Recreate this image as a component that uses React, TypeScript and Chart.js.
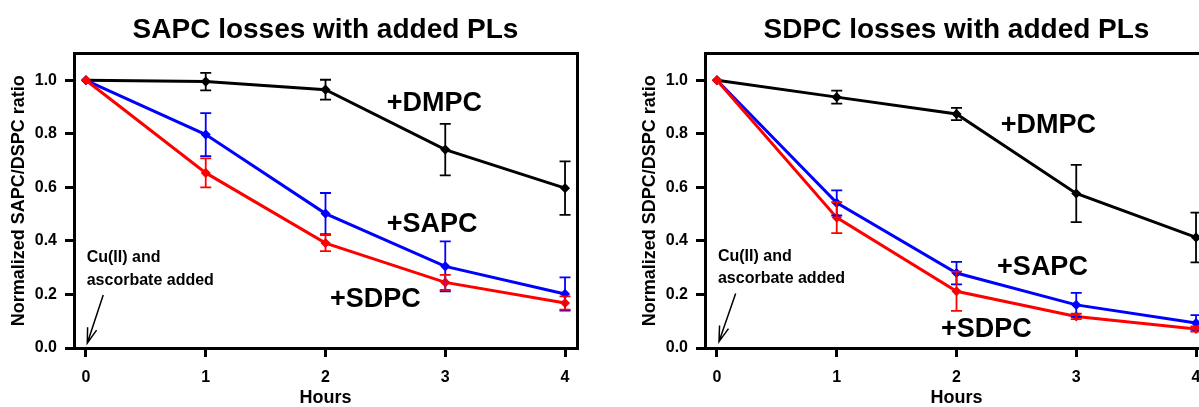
import React, { useEffect, useRef } from "react";
import { Chart, registerables } from "chart.js";

Chart.register(...registerables);

const FONT = '"Liberation Sans", Arial, Helvetica, sans-serif';

// ---- shared axes ----
const hours = [0, 1, 2, 3, 4];
const xTickValues = [0, 1, 2, 3, 4];
const yTickValues = [0, 0.2, 0.4, 0.6, 0.8, 1.0];

// ---- panel 1: SAPC losses ----
const sapcPanelDMPC = [1.0, 0.995, 0.965, 0.741, 0.597];
const sapcPanelDMPCErr = [0, 0.033, 0.037, 0.096, 0.1];
const sapcPanelSAPC = [1.0, 0.797, 0.502, 0.305, 0.202];
const sapcPanelSAPCErr = [0, 0.08, 0.077, 0.093, 0.062];
const sapcPanelSDPC = [1.0, 0.654, 0.392, 0.245, 0.168];
const sapcPanelSDPCErr = [0, 0.054, 0.03, 0.028, 0.025];

// ---- panel 2: SDPC losses ----
const sdpcPanelDMPC = [1.0, 0.937, 0.874, 0.577, 0.413];
const sdpcPanelDMPCErr = [0, 0.024, 0.023, 0.107, 0.093];
const sdpcPanelSAPC = [1.0, 0.542, 0.28, 0.161, 0.093];
const sdpcPanelSAPCErr = [0, 0.047, 0.042, 0.045, 0.03];
const sdpcPanelSDPC = [1.0, 0.487, 0.212, 0.118, 0.071];
const sdpcPanelSDPCErr = [0, 0.058, 0.073, 0.01, 0.01];

// ---- annotations (data coordinates) ----
const sapcNotes = [
  { text: "+DMPC", x: 2.512, y: 0.913, size: 27 },
  { text: "+SAPC", x: 2.512, y: 0.461, size: 27 },
  { text: "+SDPC", x: 2.037, y: 0.18, size: 27 },
  { text: "Cu(II) and", x: 0.006, y: 0.336, size: 16 },
  { text: "ascorbate added", x: 0.006, y: 0.25, size: 16 },
];
const sdpcNotes = [
  { text: "+DMPC", x: 2.37, y: 0.831, size: 27 },
  { text: "+SAPC", x: 2.339, y: 0.3, size: 27 },
  { text: "+SDPC", x: 1.87, y: 0.068, size: 27 },
  { text: "Cu(II) and", x: 0.008, y: 0.34, size: 16 },
  { text: "ascorbate added", x: 0.008, y: 0.26, size: 16 },
];
const sapcArrow = { fromX: 0.144, fromY: 0.198, toX: 0.011, toY: 0.018 };
const sdpcArrow = { fromX: 0.156, fromY: 0.204, toX: 0.017, toY: 0.024 };

const RED = "#ff0000";
const BLUE = "#0000ff";
const BLACK = "#000000";

const pts = (vals: number[]) => hours.map((h, i) => ({ x: h, y: vals[i] }));

const errorBarPlugin = {
  id: "errorBars",
  afterDatasetsDraw(chart: any, _args: any, opts: any) {
    const { ctx } = chart;
    const xs = chart.scales.x;
    const ys = chart.scales.y;
    const errs: number[][] = opts.errors || [];
    const cap = opts.cap ?? 5.5;
    for (let i = chart.data.datasets.length - 1; i >= 0; i--) {
      const ds = chart.data.datasets[i];
      const e = errs[i];
      if (!e) continue;
      ctx.save();
      ctx.strokeStyle = ds.borderColor;
      ctx.lineWidth = opts.lineWidth ?? 1.8;
      ds.data.forEach((p: any, j: number) => {
        if (!e[j]) return;
        const px = xs.getPixelForValue(p.x);
        const t = ys.getPixelForValue(p.y + e[j]);
        const b = ys.getPixelForValue(p.y - e[j]);
        ctx.beginPath();
        ctx.moveTo(px, t);
        ctx.lineTo(px, b);
        ctx.moveTo(px - cap, t);
        ctx.lineTo(px + cap, t);
        ctx.moveTo(px - cap, b);
        ctx.lineTo(px + cap, b);
        ctx.stroke();
      });
      ctx.restore();
    }
  },
};

const notesPlugin = {
  id: "notes",
  afterDraw(chart: any, _args: any, opts: any) {
    const { ctx } = chart;
    const xs = chart.scales.x;
    const ys = chart.scales.y;
    ctx.save();
    ctx.fillStyle = BLACK;
    ctx.textAlign = "left";
    ctx.textBaseline = "middle";
    (opts.items || []).forEach((n: any) => {
      ctx.font = `bold ${n.size}px ${FONT}`;
      ctx.fillText(n.text, xs.getPixelForValue(n.x), ys.getPixelForValue(n.y));
    });
    const a = opts.arrow;
    if (a) {
      const x1 = xs.getPixelForValue(a.fromX);
      const y1 = ys.getPixelForValue(a.fromY);
      const x2 = xs.getPixelForValue(a.toX);
      const y2 = ys.getPixelForValue(a.toY);
      const ang = Math.atan2(y2 - y1, x2 - x1);
      const hl = 16;
      const ha = 0.3;
      ctx.strokeStyle = BLACK;
      ctx.lineWidth = 1.5;
      ctx.beginPath();
      ctx.moveTo(x1, y1);
      ctx.lineTo(x2, y2);
      ctx.moveTo(x2 - hl * Math.cos(ang - ha), y2 - hl * Math.sin(ang - ha));
      ctx.lineTo(x2, y2);
      ctx.lineTo(x2 - hl * Math.cos(ang + ha), y2 - hl * Math.sin(ang + ha));
      ctx.stroke();
    }
    ctx.restore();
  },
};

type PanelCfg = {
  title: string;
  yTitle: string;
  dmpc: number[];
  dmpcErr: number[];
  sapc: number[];
  sapcErr: number[];
  sdpc: number[];
  sdpcErr: number[];
  notes: any[];
  arrow: any;
};

const axisGrid = {
  display: true,
  drawOnChartArea: false,
  drawTicks: true,
  tickLength: 9,
  tickWidth: 3,
  tickColor: BLACK,
  color: BLACK,
  lineWidth: 3,
};
const axisBorder = { display: true, color: BLACK, width: 3 };

function Panel({ cfg, left }: { cfg: PanelCfg; left: number }) {
  const ref = useRef<HTMLCanvasElement>(null);
  useEffect(() => {
    if (!ref.current) return;
    const mk = (label: string, color: string, vals: number[]) => ({
      label,
      data: pts(vals),
      borderColor: color,
      backgroundColor: color,
      pointBackgroundColor: color,
      pointBorderColor: color,
      borderWidth: 3,
      pointStyle: "rectRot",
      pointRadius: 4,
      pointBorderWidth: 1.5,
      showLine: true,
      tension: 0,
    });
    const chart = new Chart(ref.current, {
      type: "scatter",
      data: {
        datasets: [
          mk("+SDPC", RED, cfg.sdpc),
          mk("+SAPC", BLUE, cfg.sapc),
          mk("+DMPC", BLACK, cfg.dmpc),
        ] as any,
      },
      plugins: [errorBarPlugin, notesPlugin],
      options: {
        animation: false,
        responsive: false,
        events: [],
        layout: { padding: { left: 0, right: 23, top: 0, bottom: 0 } },
        plugins: {
          legend: { display: false },
          tooltip: { enabled: false },
          title: {
            display: true,
            text: cfg.title,
            color: BLACK,
            fullSize: false,
            font: { family: FONT, size: 28, weight: "bold", lineHeight: 1.2 },
            padding: { top: 13.2, bottom: 6.7 },
          },
          errorBars: {
            errors: [cfg.sdpcErr, cfg.sapcErr, cfg.dmpcErr],
            cap: 5.5,
            lineWidth: 1.8,
          },
          notes: { items: cfg.notes, arrow: cfg.arrow },
        } as any,
        scales: {
          x: {
            type: "linear",
            position: "bottom",
            min: -0.1,
            max: 4.1,
            afterBuildTicks: (ax: any) => {
              ax.ticks = xTickValues.map((v) => ({ value: v }));
            },
            afterFit: (ax: any) => {
              ax.height = 59;
            },
            ticks: {
              color: BLACK,
              padding: 11,
              font: { family: FONT, size: 16, weight: "bold" },
              callback: (v: any) => String(v),
            },
            grid: axisGrid,
            border: axisBorder,
            title: {
              display: true,
              text: "Hours",
              color: BLACK,
              font: { family: FONT, size: 18, weight: "bold", lineHeight: 1 },
              padding: { top: 0, bottom: 0 },
            },
          },
          y: {
            type: "linear",
            position: "left",
            min: 0,
            max: 1.1,
            afterBuildTicks: (ax: any) => {
              ax.ticks = yTickValues.map((v) => ({ value: v }));
            },
            afterFit: (ax: any) => {
              ax.width = 74;
            },
            ticks: {
              color: BLACK,
              padding: 8,
              font: { family: FONT, size: 16, weight: "bold" },
              callback: (v: any) => Number(v).toFixed(1),
            },
            grid: axisGrid,
            border: axisBorder,
            title: {
              display: true,
              text: cfg.yTitle,
              color: BLACK,
              font: { family: FONT, size: 18, weight: "bold", lineHeight: 1.2 },
              padding: { top: 8.7, bottom: 0 },
            },
          },
          x2: {
            type: "linear",
            position: "top",
            min: 0,
            max: 1,
            ticks: { display: false },
            grid: { display: true, drawOnChartArea: false, drawTicks: false, lineWidth: 3, color: BLACK },
            border: axisBorder,
            afterFit: (ax: any) => {
              ax.height = 0;
            },
          },
          y2: {
            type: "linear",
            position: "right",
            min: 0,
            max: 1,
            ticks: { display: false },
            grid: { display: true, drawOnChartArea: false, drawTicks: false, lineWidth: 3, color: BLACK },
            border: axisBorder,
            afterFit: (ax: any) => {
              ax.width = 0;
            },
          },
        } as any,
      },
    });
    return () => chart.destroy();
  }, [cfg]);
  return (
    <canvas
      ref={ref}
      width={600}
      height={407}
      style={{ position: "absolute", left, top: 0, width: 600, height: 407 }}
    />
  );
}

const sapcCfg: PanelCfg = {
  title: "SAPC losses with added PLs",
  yTitle: "Normalized SAPC/DSPC ratio",
  dmpc: sapcPanelDMPC,
  dmpcErr: sapcPanelDMPCErr,
  sapc: sapcPanelSAPC,
  sapcErr: sapcPanelSAPCErr,
  sdpc: sapcPanelSDPC,
  sdpcErr: sapcPanelSDPCErr,
  notes: sapcNotes,
  arrow: sapcArrow,
};

const sdpcCfg: PanelCfg = {
  title: "SDPC losses with added PLs",
  yTitle: "Normalized SDPC/DSPC ratio",
  dmpc: sdpcPanelDMPC,
  dmpcErr: sdpcPanelDMPCErr,
  sapc: sdpcPanelSAPC,
  sapcErr: sdpcPanelSAPCErr,
  sdpc: sdpcPanelSDPC,
  sdpcErr: sdpcPanelSDPCErr,
  notes: sdpcNotes,
  arrow: sdpcArrow,
};

export default function App() {
  return (
    <div
      style={{
        position: "absolute",
        left: 0,
        top: 0,
        width: 1199,
        height: 407,
        overflow: "hidden",
        background: "#ffffff",
      }}
    >
      <Panel cfg={sapcCfg} left={0} />
      <Panel cfg={sdpcCfg} left={631} />
    </div>
  );
}
